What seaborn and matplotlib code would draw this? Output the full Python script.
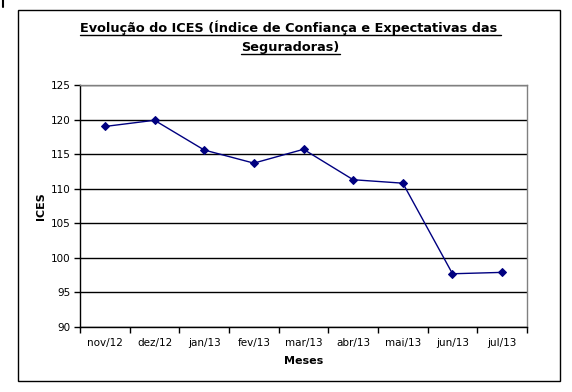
import pandas as pd
import matplotlib
matplotlib.use("Agg")
import matplotlib.pyplot as plt
from matplotlib.patches import Rectangle
from matplotlib.lines import Line2D
import seaborn as sns

# Dados do gráfico
meses = ["nov/12", "dez/12", "jan/13", "fev/13", "mar/13",
         "abr/13", "mai/13", "jun/13", "jul/13"]
ices = [119.0, 119.9, 115.6, 113.7, 115.7, 111.3, 110.8, 97.7, 97.9]
y_ticks = [90, 95, 100, 105, 110, 115, 120, 125]

df = pd.DataFrame({"Meses": meses, "ICES": ices})

sns.set_theme(style="white")
plt.rcParams['font.family'] = ['DejaVu Sans']
plt.rcParams['text.color'] = 'black'
plt.rcParams['axes.labelcolor'] = 'black'
plt.rcParams['xtick.color'] = 'black'
plt.rcParams['ytick.color'] = 'black'

fig = plt.figure(figsize=(5.72, 3.92), dpi=100)
ax = fig.add_axes([80 / 572, 65 / 392, 447 / 572, 242 / 392])

sns.lineplot(data=df, x="Meses", y="ICES", ax=ax, color="#000080",
             marker="D", markersize=4, markeredgecolor="#000080",
             linewidth=1, sort=False)

ax.set_xlim(-0.5, len(meses) - 0.5)
ax.set_ylim(y_ticks[0], y_ticks[-1])
ax.set_yticks(y_ticks)
ax.yaxis.grid(True, color="black", linewidth=1)
ax.xaxis.grid(False)
ax.set_axisbelow(True)

# ticks do eixo x entre as categorias
ax.set_xticks(range(len(meses)))
ax.set_xticklabels(meses, fontsize=7.5)
ax.set_xticks([i - 0.5 for i in range(len(meses) + 1)], minor=True)
ax.tick_params(axis="x", which="major", length=0, pad=8)
ax.tick_params(axis="x", which="minor", length=4, width=1, color="black",
               direction="out", bottom=True)
ax.tick_params(axis="y", length=4, width=1, color="black", direction="out",
               left=True, labelsize=7.5, pad=3)

for side in ["left", "bottom"]:
    ax.spines[side].set_color("black")
    ax.spines[side].set_linewidth(1)
for side in ["top", "right"]:
    ax.spines[side].set_color("#808080")
    ax.spines[side].set_linewidth(1)

ax.set_xlabel("Meses", fontsize=8, fontweight="bold", labelpad=6)
ax.set_ylabel("ICES", fontsize=8, fontweight="bold", labelpad=3)

# moldura externa
fig.patches.append(Rectangle((18 / 572, 11 / 392), 542 / 572, 371 / 392,
                             transform=fig.transFigure, fill=False,
                             edgecolor="black", linewidth=1))
fig.lines.append(Line2D([3 / 572, 3 / 572], [1.0, 385 / 392],
                        transform=fig.transFigure, color="black", linewidth=1.5))

# título sublinhado
linhas = ["Evolução do ICES (Índice de Confiança e Expectativas das ",
          "Seguradoras)"]
ys = [360 / 392, 341 / 392]
fig.canvas.draw()
renderer = fig.canvas.get_renderer()
for txt, yy in zip(linhas, ys):
    t = fig.text(0.508, yy, txt, ha="center", va="baseline",
                 fontsize=9.3, fontweight="bold", color="black")
    bb = t.get_window_extent(renderer=renderer)
    x0, x1 = bb.x0 / fig.bbox.width, bb.x1 / fig.bbox.width
    yl = yy - 3 / 392
    fig.lines.append(Line2D([x0, x1], [yl, yl], transform=fig.transFigure,
                            color="black", linewidth=1))

fig.savefig("out.png", dpi=100)
